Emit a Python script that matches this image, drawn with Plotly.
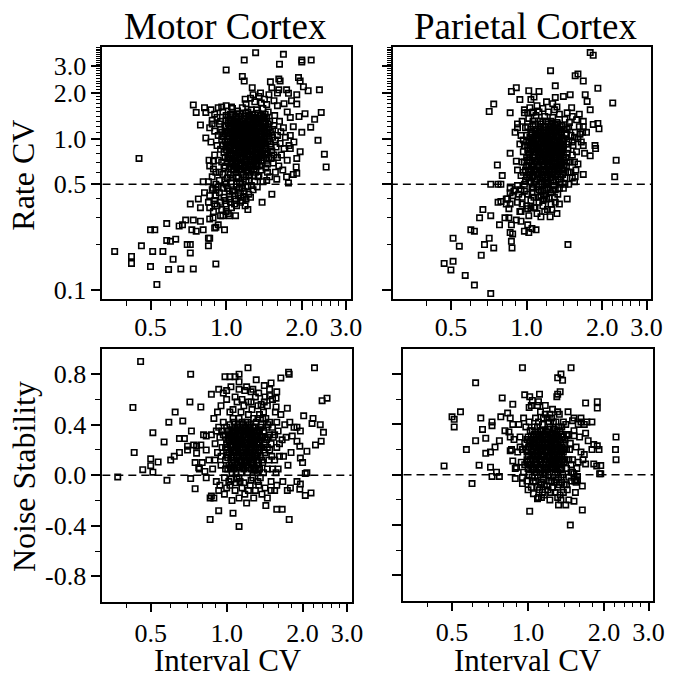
import math
import plotly.graph_objects as go

# ---------------- data ----------------
# Motor cortex: (Interval CV, Rate CV)
MOTOR_RATE = [
    (1.31, 3.69), (1.69, 3.6), (1.18, 3.3), (2.0, 3.3), (2.18, 3.3), (2.0, 3.2), (1.0, 2.84), (1.63, 3.1),
    (1.16, 2.57), (1.18, 2.4), (1.27, 2.17), (1.37, 2.0), (1.5, 2.37), (1.62, 2.47), (1.64, 2.4),
    (1.52, 2.17), (1.6, 2.0), (1.62, 2.1), (1.74, 2.1), (1.77, 1.99), (1.94, 2.53), (1.97, 2.4),
    (2.03, 2.2), (2.12, 2.07), (2.35, 2.1), (1.91, 1.95), (1.82, 1.78), (1.91, 1.69), (2.39, 1.49),
    (2.06, 1.46), (2.25, 1.34), (2.17, 1.19), (2.32, 0.975), (2.46, 0.79), (2.5, 0.65), (1.8, 0.86),
    (1.97, 0.82), (1.91, 0.74), (1.91, 0.59), (1.77, 0.51), (1.52, 0.43), (1.39, 0.38), (0.45, 0.74),
    (0.74, 1.67), (0.76, 1.49), (0.82, 1.6), (0.83, 1.49), (0.79, 1.23), (0.83, 1.01), (0.855, 0.72),
    (0.91, 0.6), (0.81, 0.52), (0.85, 0.52), (0.775, 0.4), (0.72, 0.37), (0.79, 0.35), (0.82, 0.44),
    (0.887, 0.47), (0.91, 0.46), (0.86, 0.35), (0.9, 0.37), (1.03, 0.4), (1.09, 0.4), (1.16, 0.39),
    (1.22, 0.34), (1.25, 0.41), (1.0, 0.33), (0.97, 0.31), (1.03, 0.31), (1.09, 0.31), (0.887, 0.30),
    (0.86, 0.295), (0.79, 0.285), (0.74, 0.29), (0.73, 0.25), (0.76, 0.245), (0.81, 0.25), (0.69, 0.29),
    (0.65, 0.265), (0.67, 0.27), (0.58, 0.275), (0.5, 0.25), (0.52, 0.25), (0.9, 0.257), (0.93, 0.27),
    (0.91, 0.26), (0.985, 0.25), (0.86, 0.22), (0.63, 0.217), (0.58, 0.213), (0.6, 0.21), (0.7, 0.2),
    (0.72, 0.2), (0.85, 0.196), (0.85, 0.22), (0.46, 0.196), (0.51, 0.18), (0.56, 0.18), (0.72, 0.176),
    (0.36, 0.18), (0.42, 0.167), (0.42, 0.15), (0.615, 0.16), (0.5, 0.143), (0.59, 0.137), (0.66, 0.138),
    (0.74, 0.138), (0.91, 0.149), (0.53, 0.109),
    # dense core
    (1.02, 0.95), (1.08, 1.12), (1.15, 0.88), (1.21, 1.03), (1.27, 0.76), (1.33, 0.92), (1.12, 0.69),
    (0.98, 0.81), (1.05, 1.31), (1.18, 1.22), (1.24, 1.41), (1.36, 1.08), (1.42, 0.85), (1.48, 1.18),
    (1.39, 0.71), (1.29, 0.63), (1.17, 0.58), (1.07, 0.62), (0.96, 0.7), (0.93, 1.05), (0.99, 1.2),
    (1.04, 1.45), (1.11, 1.52), (1.19, 1.35), (1.31, 1.27), (1.45, 1.38), (1.53, 1.02), (1.58, 0.88),
    (1.51, 0.74), (1.44, 0.64), (1.35, 0.57), (1.23, 0.53), (1.13, 0.52), (1.01, 0.55), (0.94, 0.6),
    (0.9, 0.78), (0.92, 0.9), (0.95, 1.15), (1.0, 1.33), (1.07, 1.02), (1.1, 0.84), (1.14, 1.07),
    (1.2, 0.92), (1.26, 1.15), (1.3, 0.98), (1.34, 0.82), (1.38, 0.95), (1.41, 1.12), (1.47, 0.97),
    (1.55, 1.22), (1.6, 1.05), (1.64, 0.93), (1.66, 0.78), (1.62, 0.66), (1.57, 0.6), (1.49, 0.56),
    (1.4, 0.52), (1.26, 0.49), (1.16, 0.47), (1.06, 0.45), (0.97, 0.47), (0.91, 0.5), (0.88, 0.56),
    (0.86, 0.66), (0.89, 0.71), (1.03, 0.74), (1.09, 0.77), (1.16, 0.8), (1.23, 0.7), (1.28, 0.85),
    (1.37, 0.77), (1.44, 0.9), (1.52, 0.83), (1.12, 0.97), (1.18, 1.13), (1.22, 1.25), (1.29, 1.34),
    (1.34, 1.47), (1.26, 1.55), (1.16, 1.6), (1.06, 1.58), (0.97, 1.5), (0.92, 1.38), (0.88, 1.25),
    (0.9, 1.12), (0.96, 0.99), (1.01, 0.88), (1.06, 1.08), (1.13, 1.29), (1.4, 1.58), (1.47, 1.5),
    (1.56, 1.42), (1.63, 1.3), (1.69, 1.18), (1.72, 1.02), (1.7, 0.86), (1.75, 0.72), (1.68, 0.62),
    (1.59, 0.54), (1.46, 0.6), (1.33, 0.66), (1.21, 0.62), (1.1, 0.56), (0.99, 0.52), (1.05, 0.68),
    (1.15, 0.73), (1.25, 0.79), (1.32, 0.88), (1.43, 1.03), (1.5, 1.1), (1.57, 0.98), (1.65, 1.11),
    (1.03, 1.17), (0.99, 1.08), (1.1, 1.2), (1.25, 1.06), (1.19, 0.99), (1.14, 0.91), (1.08, 0.86),
    (1.24, 0.96), (1.31, 1.04), (1.36, 1.19), (1.27, 1.23), (1.2, 1.41), (1.09, 1.38), (1.02, 1.26),
    (0.95, 0.85), (0.98, 0.64), (1.04, 0.58), (1.12, 0.63), (1.2, 0.66), (1.3, 0.72), (1.38, 0.62),
    (1.45, 0.72), (1.54, 0.69), (1.6, 0.75), (1.13, 0.76), (1.07, 0.92), (1.17, 1.02), (1.28, 0.93),
    (1.35, 0.99), (1.41, 0.93), (1.46, 0.8),
    (1.01, 1.0), (1.04, 0.83), (1.06, 0.97), (1.09, 1.05), (1.11, 0.9), (1.13, 1.12), (1.16, 0.94),
    (1.18, 0.82), (1.21, 0.88), (1.23, 1.09), (1.25, 0.9), (1.28, 1.02), (1.3, 1.18), (1.32, 0.8),
    (1.35, 1.12), (1.37, 0.88), (1.39, 1.04), (1.42, 1.2), (1.44, 0.78), (1.46, 1.08), (1.03, 0.65),
    (1.06, 0.72), (1.1, 0.64), (1.14, 0.68), (1.17, 0.76), (1.22, 0.6), (1.26, 0.68), (1.29, 0.57),
    (1.33, 0.74), (1.36, 0.66), (1.02, 1.1), (1.05, 1.22), (1.08, 1.28), (1.12, 1.4), (1.15, 1.18),
    (1.19, 1.27), (1.24, 1.33), (1.27, 1.45), (1.31, 1.38), (1.35, 1.28), (1.38, 1.42), (1.42, 1.3),
    (1.08, 0.97), (1.12, 0.8), (1.19, 0.73), (1.24, 0.82), (1.28, 0.78), (1.33, 1.0), (1.4, 0.82),
    (1.46, 0.68), (1.0, 0.9), (0.97, 1.03), (0.99, 0.75), (1.02, 0.6), (1.06, 0.55), (1.15, 0.6),
    (1.2, 0.56), (1.26, 0.62), (1.31, 0.6), (1.11, 1.08), (1.16, 1.1), (1.21, 1.16), (1.25, 1.22),
    (1.14, 0.98), (1.22, 1.0), (1.29, 1.1), (1.34, 0.94), (1.05, 0.8), (1.09, 0.7), (1.17, 0.9),
    (1.27, 0.96), (1.37, 1.02), (1.43, 0.96), (1.5, 0.92), (1.53, 1.15), (1.49, 1.3), (1.43, 1.45),
    (1.32, 1.55), (1.22, 1.5), (1.1, 1.3), (0.95, 1.3), (0.93, 0.72), (0.94, 0.53), (0.97, 0.58),
    (1.0, 0.5), (1.05, 0.52), (1.1, 0.5), (1.2, 0.52), (1.3, 0.52), (1.45, 0.53),
    (1.0, 1.12), (1.03, 0.87), (1.05, 0.78), (1.07, 1.15), (1.09, 0.94), (1.11, 0.72), (1.13, 0.85),
    (1.15, 1.25), (1.17, 1.06), (1.19, 0.64), (1.21, 0.78), (1.23, 0.93), (1.25, 1.3), (1.27, 0.86),
    (1.29, 0.7), (1.31, 0.91), (1.33, 1.22), (1.35, 0.76), (1.37, 1.32), (1.39, 0.9), (1.41, 0.75),
    (1.43, 1.15), (1.02, 1.38), (1.06, 1.42), (1.1, 0.98), (1.14, 0.62), (1.18, 1.05), (1.22, 0.84),
    (1.26, 1.0), (1.3, 0.85), (1.34, 1.36), (1.38, 1.12), (1.42, 1.0), (1.04, 0.9), (1.08, 0.66),
    (1.12, 1.17), (1.16, 1.35), (1.2, 1.2), (1.24, 0.66), (1.28, 1.28), (1.32, 0.68), (1.36, 0.85),
    (1.4, 1.25), (1.44, 1.24), (0.99, 0.96), (1.01, 0.7), (1.07, 0.83), (1.13, 1.0), (1.19, 0.87),
    (1.25, 0.72), (1.31, 1.12), (1.37, 0.98), (1.43, 0.86), (1.48, 1.04), (1.51, 0.88), (1.55, 0.78),
    (1.48, 0.75), (1.09, 1.1), (1.2, 1.08), (1.27, 1.1), (1.17, 1.3), (1.23, 1.43), (1.13, 1.46),
    (1.05, 0.63), (1.16, 0.66), (1.28, 0.66), (1.34, 0.56), (1.24, 0.57), (1.12, 0.55), (0.97, 0.9),
    (0.96, 1.1), (1.0, 1.22),
    (1.005, 0.84), (1.025, 1.05), (1.045, 0.69), (1.065, 1.26), (1.085, 0.8), (1.105, 1.35),
    (1.125, 0.93), (1.145, 0.75), (1.165, 1.15), (1.185, 0.97), (1.205, 0.7), (1.225, 1.18),
    (1.245, 1.06), (1.265, 0.83), (1.285, 1.2), (1.305, 0.78), (1.325, 1.06), (1.345, 0.72),
    (1.365, 0.93), (1.385, 1.18), (1.405, 0.96), (1.425, 0.8), (1.445, 1.1), (1.015, 0.78),
    (1.035, 1.3), (1.055, 0.95), (1.075, 0.74), (1.095, 1.22), (1.115, 1.04), (1.135, 0.66),
    (1.155, 0.84), (1.175, 1.2), (1.195, 0.95), (1.215, 1.3), (1.235, 0.76), (1.255, 0.95),
    (1.275, 1.36), (1.295, 0.94), (1.315, 0.66), (1.335, 0.86), (1.355, 1.04), (1.375, 0.72),
    (1.395, 0.8), (1.415, 1.38), (1.06, 1.05), (1.1, 0.92), (1.14, 1.22), (1.18, 0.9), (1.22, 0.68),
    (1.26, 1.12), (1.3, 1.06), (1.34, 1.16), (1.38, 0.78), (1.12, 0.88), (1.16, 1.0), (1.2, 0.82),
    (1.24, 1.16), (1.28, 0.92), (1.32, 1.3), (1.36, 0.98), (1.08, 1.2), (1.04, 1.08), (1.02, 0.74),
    (0.99, 0.66), (1.0, 1.42), (1.1, 1.45), (1.2, 1.47), (1.3, 1.44), (1.4, 1.4), (1.47, 1.25),
    # band just below the 0.5 line
    (0.86, 0.42), (0.9, 0.39), (0.94, 0.44), (0.98, 0.41), (1.03, 0.43), (1.08, 0.37), (1.12, 0.42),
    (1.18, 0.45), (1.23, 0.43), (0.92, 0.36), (0.96, 0.34), (1.0, 0.37), (1.05, 0.35), (1.14, 0.38),
    (1.2, 0.4), (0.88, 0.46), (1.1, 0.48), (1.28, 0.46), (1.33, 0.48), (0.95, 0.31), (1.02, 0.32),
    (1.07, 0.46), (0.93, 0.48), (1.16, 0.5), (1.22, 0.48), (0.85, 0.38), (0.89, 0.33),
    (1.03, 0.45), (1.08, 0.42), (1.14, 0.44), (0.99, 0.39), (1.04, 0.38), (1.1, 0.36), (1.17, 0.41),
    (0.95, 0.38), (0.91, 0.42), (1.01, 0.47), (1.13, 0.47), (1.19, 0.36),
    # upper edges
    (0.87, 1.55), (0.9, 1.45), (0.93, 1.6), (0.96, 1.62), (1.0, 1.65), (1.05, 1.62), (0.88, 1.32),
    (0.86, 1.18), (0.87, 0.95), (0.89, 0.63), (0.94, 1.25), (1.2, 1.7), (1.3, 1.75), (1.38, 1.72),
    (1.45, 1.68), (1.25, 1.85), (1.35, 1.9), (1.42, 1.82), (1.55, 1.78), (1.6, 1.65), (1.7, 1.7),
    (1.28, 1.95), (1.19, 1.82), (1.48, 1.95), (1.75, 1.5), (1.8, 1.38), (1.85, 1.2), (1.8, 1.05),
    (1.86, 0.95), (1.78, 0.9), (1.9, 0.65), (1.85, 0.58), (1.74, 0.56), (1.95, 1.4), (2.0, 1.1),
]

# Parietal cortex: (Interval CV, Rate CV)
PARIETAL_RATE = [
    (1.79, 3.7), (1.84, 3.55), (1.245, 2.81), (1.56, 2.6), (1.6, 2.67), (1.68, 2.4), (1.92, 2.15),
    (0.87, 2.05), (0.91, 2.17), (1.02, 2.07), (1.07, 1.88), (1.04, 1.81), (1.12, 2.05), (1.3, 2.23),
    (0.94, 1.81), (0.74, 1.69), (0.71, 1.51), (0.86, 1.48), (0.98, 1.48), (1.01, 1.48), (1.05, 1.48),
    (1.3, 1.87), (1.4, 1.9), (1.49, 1.95), (1.71, 1.95), (1.74, 1.76), (1.79, 1.55), (1.51, 1.6),
    (2.2, 1.72), (1.68, 1.3), (1.84, 1.24), (1.92, 1.26), (1.94, 1.16), (1.67, 1.1), (1.63, 1.07),
    (1.68, 0.9), (1.87, 0.9), (1.88, 0.86), (1.79, 0.77), (2.27, 0.72), (2.24, 0.56), (1.68, 0.58),
    (1.56, 0.56), (0.92, 1.18), (0.86, 0.8), (0.91, 0.71), (0.765, 0.67), (0.8, 0.57), (0.72, 0.5),
    (0.79, 0.5), (0.77, 0.5), (0.86, 0.47), (0.89, 0.45), (0.86, 0.44), (0.95, 0.46), (0.93, 0.43),
    (0.77, 0.38), (0.79, 0.385), (0.84, 0.4), (0.83, 0.37), (0.85, 0.345), (0.67, 0.34), (0.65, 0.3),
    (0.72, 0.31), (0.78, 0.27), (0.82, 0.3), (0.85, 0.3), (0.87, 0.27), (0.91, 0.29), (0.95, 0.285),
    (1.01, 0.27), (1.05, 0.255), (0.98, 0.245), (1.02, 0.24), (1.09, 0.25), (0.6, 0.25), (0.62, 0.245),
    (0.68, 0.2), (0.71, 0.22), (0.74, 0.19), (0.86, 0.24), (0.88, 0.235), (0.87, 0.21), (0.875, 0.19),
    (0.51, 0.22), (0.54, 0.195), (0.66, 0.17), (0.47, 0.15), (0.51, 0.155), (0.5, 0.136), (0.57, 0.125),
    (0.62, 0.108), (0.72, 0.095), (1.46, 0.2), (1.14, 0.305), (1.24, 0.305), (1.32, 0.32), (1.45, 0.4),
    (0.95, 0.33), (1.01, 0.345), (1.07, 0.35), (1.17, 0.4),
    # dense core
    (1.0, 0.95), (1.05, 1.1), (1.1, 0.85), (1.15, 1.0), (1.2, 0.78), (1.25, 0.92), (1.3, 1.12),
    (1.35, 0.7), (1.4, 0.88), (1.02, 0.72), (1.07, 0.6), (1.12, 0.66), (1.18, 0.55), (1.23, 0.62),
    (1.28, 0.52), (1.33, 0.58), (1.38, 0.64), (1.43, 0.75), (1.47, 0.95), (1.5, 1.05), (1.45, 1.15),
    (1.38, 1.22), (1.32, 1.28), (1.22, 1.2), (1.14, 1.25), (1.06, 1.3), (0.99, 1.18), (0.95, 1.05),
    (0.97, 0.82), (0.99, 0.62), (1.04, 0.52), (1.1, 0.48), (1.16, 0.45), (1.22, 0.5), (1.3, 0.46),
    (1.36, 0.5), (1.42, 0.55), (1.5, 0.6), (1.55, 0.7), (1.58, 0.82), (1.53, 0.9), (1.6, 1.0),
    (1.56, 1.1), (1.62, 1.2), (1.48, 1.28), (1.42, 1.34), (1.27, 1.38), (1.18, 1.4), (1.09, 1.42),
    (1.02, 1.36), (0.96, 1.3), (0.94, 0.92), (0.96, 0.7), (1.08, 0.78), (1.13, 0.92), (1.19, 1.08),
    (1.26, 1.02), (1.32, 0.95), (1.36, 0.82), (1.29, 0.75), (1.21, 0.68), (1.16, 0.72), (1.11, 0.58),
    (1.06, 0.88), (1.03, 1.02), (1.09, 1.15), (1.17, 1.14), (1.24, 0.84), (1.34, 1.05), (1.41, 1.0),
    (1.46, 0.85), (1.44, 0.66), (1.39, 0.58), (1.26, 0.58), (1.19, 0.62), (1.14, 0.8), (1.01, 0.84),
    (1.07, 0.98), (1.23, 1.13), (1.29, 0.88), (1.35, 0.92), (1.4, 0.78), (1.31, 0.66), (1.24, 0.72),
    (1.17, 0.86), (1.12, 1.04), (1.2, 0.96), (1.27, 1.24), (1.33, 1.17), (1.52, 0.78), (1.57, 0.62),
    (1.47, 0.5), (1.4, 0.47), (1.33, 0.43), (1.25, 0.44), (1.18, 0.42), (1.11, 0.41), (1.05, 0.44),
    (0.98, 0.5), (0.95, 0.57), (1.0, 0.56), (1.08, 0.52), (1.15, 0.5), (1.21, 0.56), (1.27, 0.65),
    (1.37, 0.72), (1.45, 0.8), (1.02, 0.65), (1.1, 0.7), (1.13, 1.18), (1.06, 1.22), (1.25, 1.3),
    (1.37, 1.1), (1.44, 1.06), (1.3, 0.8), (1.22, 0.9), (1.16, 0.98), (1.09, 0.9), (1.04, 0.95),
    (1.02, 0.8), (1.05, 0.7), (1.08, 0.92), (1.11, 0.76), (1.14, 0.62), (1.17, 0.68), (1.2, 0.86),
    (1.23, 0.98), (1.26, 0.75), (1.29, 0.62), (1.32, 0.85), (1.35, 0.98), (1.38, 0.84), (1.41, 0.67),
    (1.04, 1.15), (1.08, 1.05), (1.12, 1.1), (1.16, 1.2), (1.2, 1.1), (1.24, 1.18), (1.28, 1.05),
    (1.32, 1.1), (1.36, 1.2), (1.03, 0.58), (1.07, 0.5), (1.13, 0.55), (1.19, 0.5), (1.25, 0.55),
    (1.31, 0.52), (1.37, 0.56), (1.0, 0.66), (1.06, 0.65), (1.15, 0.88), (1.22, 0.8), (1.27, 0.9),
    (1.33, 0.7), (1.1, 1.0), (1.18, 0.94), (1.25, 1.08), (1.3, 0.96), (1.12, 0.85), (1.21, 0.74),
    (1.28, 0.7), (1.09, 0.6), (1.16, 0.56), (1.24, 0.6), (1.34, 0.62), (1.4, 0.9), (1.43, 1.08),
    (1.47, 1.2), (1.13, 1.3), (1.2, 1.3), (1.0, 1.05), (0.98, 0.9), (0.97, 0.6), (0.99, 0.53),
    (1.05, 0.48), (1.12, 0.46), (1.2, 0.47), (1.28, 0.49), (1.35, 0.47), (1.42, 0.5), (1.06, 0.82),
    (1.18, 0.78), (1.26, 0.84), (1.36, 0.78), (1.44, 0.92), (1.49, 0.7), (1.52, 0.95), (1.55, 1.02),
    (1.48, 0.6), (1.52, 0.55),
    (1.01, 0.9), (1.03, 0.76), (1.05, 1.02), (1.07, 0.68), (1.09, 0.82), (1.11, 0.96), (1.13, 0.72),
    (1.15, 0.58), (1.17, 0.78), (1.19, 0.9), (1.21, 1.02), (1.23, 0.68), (1.25, 0.8), (1.27, 0.58),
    (1.29, 0.98), (1.31, 0.74), (1.33, 0.9), (1.35, 0.62), (1.37, 0.8), (1.39, 0.96), (1.02, 0.55),
    (1.06, 0.98), (1.1, 0.62), (1.14, 1.12), (1.18, 0.7), (1.22, 0.62), (1.26, 0.95), (1.3, 0.56),
    (1.34, 0.82), (1.38, 0.68), (1.04, 0.62), (1.08, 0.72), (1.12, 0.92), (1.16, 0.82), (1.2, 0.6),
    (1.24, 1.05), (1.28, 0.82), (1.32, 0.64), (1.36, 0.9), (1.4, 0.72), (1.0, 0.75), (1.05, 0.86),
    (1.11, 1.08), (1.17, 1.04), (1.23, 0.88), (1.29, 1.18), (1.35, 1.15), (1.41, 1.15), (1.1, 0.54),
    (1.2, 0.53), (1.3, 0.65), (1.06, 0.57), (1.14, 0.7), (1.22, 0.72), (1.28, 0.78), (1.38, 1.02),
    (1.45, 0.7), (1.46, 0.6), (1.12, 0.5), (1.27, 0.46), (1.18, 0.46), (0.98, 0.7), (0.97, 0.98),
    (1.01, 1.2), (1.08, 1.25), (1.16, 1.3), (1.22, 1.25), (1.3, 1.22),
    (1.005, 0.72), (1.025, 0.95), (1.045, 0.66), (1.065, 0.78), (1.085, 1.12), (1.105, 0.66),
    (1.125, 0.8), (1.145, 0.95), (1.165, 0.62), (1.185, 1.0), (1.205, 0.72), (1.225, 0.84),
    (1.245, 0.66), (1.265, 1.12), (1.285, 0.6), (1.305, 0.88), (1.325, 1.02), (1.345, 0.74),
    (1.365, 0.66), (1.385, 0.9), (1.015, 0.6), (1.035, 0.86), (1.055, 0.56), (1.075, 0.9),
    (1.095, 0.7), (1.115, 0.86), (1.135, 1.06), (1.155, 0.76), (1.175, 0.6), (1.195, 0.82),
    (1.215, 0.94), (1.235, 0.58), (1.255, 0.7), (1.275, 0.86), (1.295, 0.68), (1.315, 1.06),
    (1.335, 0.54), (1.355, 0.86), (1.375, 1.05), (1.395, 0.62), (1.08, 0.62), (1.12, 0.78),
    (1.16, 0.66), (1.2, 0.92), (1.24, 0.78), (1.28, 0.95), (1.32, 0.78), (1.36, 0.7), (1.06, 0.75),
    (1.1, 0.88), (1.14, 0.52), (1.18, 1.2), (1.22, 1.08), (1.26, 0.66), (1.3, 0.9), (1.34, 1.0),
    (1.04, 1.08), (1.15, 1.05), (1.25, 1.2), (1.33, 1.25),
    # band below the 0.5 line
    (0.88, 0.42), (0.92, 0.38), (0.96, 0.41), (1.0, 0.36), (1.04, 0.39), (1.08, 0.35), (1.12, 0.38),
    (1.16, 0.36), (1.2, 0.4), (1.25, 0.37), (1.29, 0.41), (0.9, 0.46), (0.98, 0.45), (1.06, 0.47),
    (1.14, 0.45), (1.22, 0.46), (1.3, 0.38), (1.35, 0.37), (0.94, 0.33), (1.02, 0.31), (1.1, 0.32),
    (1.18, 0.33), (1.26, 0.34), (0.86, 0.37), (0.83, 0.4), (1.01, 0.43), (1.07, 0.41), (1.14, 0.42),
    (1.23, 0.41), (0.92, 0.49), (0.96, 0.37), (1.04, 0.35), (1.16, 0.39), (1.21, 0.34),
    # upper edges
    (0.98, 1.55), (1.03, 1.6), (1.1, 1.65), (1.16, 1.58), (1.22, 1.5), (1.29, 1.55), (1.35, 1.45),
    (1.2, 1.75), (1.27, 1.7), (1.32, 1.62), (1.45, 1.48), (1.52, 1.4), (1.58, 1.33), (1.62, 1.45),
    (1.68, 1.2), (1.73, 1.1), (1.65, 0.95), (1.7, 0.8), (1.6, 0.68), (1.55, 0.52), (1.12, 1.5),
    (1.06, 1.5), (0.92, 1.25), (0.9, 1.1), (0.92, 0.62),
]

# Motor cortex: (Interval CV, Noise Stability)
MOTOR_NOISE = [
    (0.456, 0.9), (0.72, 0.8), (0.425, 0.536), (0.43, 0.18), (0.37, -0.013), (0.465, 0.044),
    (0.5, 0.13), (0.5, 0.076), (0.51, 0.024), (0.535, 0.105), (0.51, 0.337), (0.565, 0.264),
    (0.59, 0.42), (0.625, 0.5), (0.67, 0.43), (0.715, 0.58), (0.725, 0.35), (0.58, -0.04),
    (0.6, 0.12), (0.62, 0.15), (0.65, 0.18), (0.65, 0.29), (0.68, 0.29), (0.7, 0.23), (0.7, 0.2),
    (0.74, 0.24), (0.76, 0.23), (0.79, 0.24), (0.79, 0.54), (0.72, -0.026), (0.75, -0.107),
    (0.75, 0.1), (0.775, 0.06), (0.76, 0.175), (0.82, 0.03), (0.83, -0.02), (0.81, 0.32), (0.83, 0.31),
    (0.86, -0.18), (0.87, -0.165), (0.86, -0.35), (0.93, -0.28), (1.06, -0.3), (1.12, -0.405),
    (0.87, 0.64), (0.93, 0.68), (1.0, 0.67), (0.985, 0.78), (1.03, 0.78), (1.08, 0.78), (1.12, 0.8),
    (1.215, 0.85), (1.12, 0.74), (1.18, 0.67), (1.25, 0.66), (1.31, 0.755), (1.41, 0.71), (1.5, 0.73),
    (1.64, 0.77), (1.76, 0.815), (1.77, 0.8), (2.23, 0.85), (2.39, 0.59), (2.5, 0.61), (2.02, 0.47),
    (2.2, 0.45), (2.35, 0.4), (2.42, 0.34), (2.25, 0.24), (2.37, 0.27), (2.18, 0.41), (2.08, 0.19),
    (1.96, 0.136), (2.0, 0.1), (2.05, 0.013), (2.08, 0.02), (2.05, -0.16), (2.16, -0.14), (1.9, -0.05),
    (1.96, -0.07), (1.95, -0.11), (1.77, -0.35), (1.66, -0.27), (1.58, -0.27), (1.43, -0.24),
    (1.74, -0.12), (1.79, -0.1), (1.9, 0.38), (1.96, 0.35), (1.82, 0.31), (1.9, 0.27), (1.95, 0.23),
    (1.74, 0.53), (1.57, 0.54), (1.48, 0.63), (1.58, 0.66), (1.57, 0.61),
    # dense core
    (1.0, 0.2), (1.05, 0.3), (1.1, 0.15), (1.15, 0.25), (1.2, 0.1), (1.25, 0.35), (1.3, 0.2),
    (1.35, 0.05), (1.02, 0.08), (1.08, 0.38), (1.12, 0.45), (1.18, 0.32), (1.22, 0.18), (1.28, 0.28),
    (1.32, 0.12), (1.38, 0.3), (1.42, 0.18), (1.45, 0.05), (1.5, 0.25), (1.55, 0.12), (1.6, 0.35),
    (1.48, 0.42), (1.4, 0.5), (1.33, 0.45), (1.26, 0.52), (1.17, 0.55), (1.1, 0.58), (1.03, 0.5),
    (0.97, 0.42), (0.94, 0.3), (0.92, 0.18), (0.95, 0.08), (0.98, -0.02), (1.03, -0.08), (1.08, -0.12),
    (1.13, -0.05), (1.18, -0.15), (1.24, -0.08), (1.3, -0.12), (1.36, -0.02), (1.42, -0.1), (1.5, -0.05),
    (1.57, 0.02), (1.62, 0.15), (1.66, 0.28), (1.7, 0.4), (1.64, 0.48), (1.56, 0.5), (1.52, 0.38),
    (1.46, 0.3), (1.06, 0.22), (1.13, 0.33), (1.19, 0.42), (1.24, 0.25), (1.29, 0.38), (1.34, 0.22),
    (1.39, 0.1), (1.01, 0.35), (0.96, 0.22), (1.07, 0.05), (1.14, 0.1), (1.21, 0.02), (1.27, 0.08),
    (1.33, -0.05), (1.16, 0.2), (1.09, 0.25), (1.04, 0.14), (0.99, 0.12), (1.23, 0.4), (1.31, 0.3),
    (1.37, 0.4), (1.44, 0.38), (1.51, 0.15), (1.58, 0.22), (1.47, 0.12), (1.41, 0.25), (1.11, 0.4),
    (1.06, 0.45), (1.2, 0.28), (1.26, 0.15), (1.32, 0.25), (1.17, 0.05), (1.12, -0.02), (1.05, 0.02),
    (0.93, 0.38), (0.9, 0.25), (0.88, 0.05), (0.91, -0.05), (1.0, 0.28), (1.08, 0.18), (1.15, 0.35),
    (1.22, 0.48), (1.28, 0.45), (1.35, 0.35), (1.43, 0.45), (1.53, 0.3), (1.6, 0.05), (1.67, -0.05),
    (1.55, -0.12), (1.45, -0.18), (1.38, -0.15), (1.28, -0.18), (1.2, -0.22), (1.12, -0.18),
    (1.05, -0.2), (0.98, -0.15), (0.93, -0.12), (0.89, -0.18), (0.95, 0.55), (1.0, 0.6), (1.08, 0.62),
    (1.15, 0.6), (1.22, 0.58), (1.3, 0.62), (1.37, 0.56), (1.45, 0.55), (1.52, 0.6), (1.35, 0.48),
    (1.18, 0.12), (1.24, 0.32), (1.1, 0.1), (1.03, 0.32), (1.14, 0.28), (1.26, 0.22), (1.36, 0.15),
    (1.3, 0.05), (1.4, 0.35), (1.48, 0.2), (1.58, 0.42), (1.68, 0.15), (1.72, 0.3), (1.75, 0.08),
    (1.8, 0.18), (1.78, 0.42), (1.85, 0.38), (0.87, 0.32), (0.85, 0.12), (0.89, 0.45), (0.92, 0.5),
    (0.97, 0.65), (1.04, 0.7), (1.12, 0.68), (1.2, 0.7), (1.27, 0.68), (1.34, 0.65), (1.42, 0.62),
    (1.48, 0.68), (0.83, 0.2), (0.8, 0.1), (0.78, 0.05),
    (1.0, 0.25), (1.02, 0.18), (1.04, 0.3), (1.06, 0.12), (1.08, 0.28), (1.1, 0.22), (1.12, 0.32),
    (1.14, 0.18), (1.16, 0.3), (1.18, 0.22), (1.2, 0.35), (1.22, 0.3), (1.24, 0.12), (1.26, 0.3),
    (1.28, 0.12), (1.3, 0.28), (1.32, 0.35), (1.34, 0.1), (1.01, 0.05), (1.05, 0.08), (1.09, 0.02),
    (1.13, 0.06), (1.17, 0.15), (1.21, 0.08), (1.25, 0.05), (1.29, 0.15), (1.33, 0.18), (1.37, 0.22),
    (1.03, 0.4), (1.07, 0.35), (1.11, 0.28), (1.15, 0.42), (1.19, 0.38), (1.23, 0.2), (1.27, 0.38),
    (1.31, 0.42), (1.36, 0.3), (0.97, 0.32), (0.99, 0.05), (1.04, -0.03), (1.09, -0.06), (1.15, -0.1),
    (1.22, -0.12), (1.27, -0.02), (1.34, -0.08), (1.4, 0.02), (1.44, 0.28), (1.48, 0.32), (1.52, 0.05),
    (1.12, 0.15), (1.18, 0.25), (1.24, 0.38), (1.07, 0.2), (1.2, 0.15), (1.27, 0.25), (1.02, 0.28),
    (0.95, 0.15), (0.96, 0.35), (1.39, 0.45), (1.46, 0.4), (1.55, 0.32), (1.62, 0.25), (1.5, -0.12),
    (1.58, -0.08), (1.0, -0.1), (0.94, -0.08), (0.9, 0.12), (0.91, 0.35), (1.06, 0.52), (1.14, 0.5),
    (1.25, 0.58), (1.33, 0.55), (1.41, 0.58),
    (0.99, 0.22), (1.01, 0.14), (1.03, 0.24), (1.05, 0.36), (1.07, 0.14), (1.09, 0.32), (1.11, 0.08),
    (1.13, 0.22), (1.15, 0.12), (1.17, 0.32), (1.19, 0.08), (1.21, 0.24), (1.23, 0.34), (1.25, 0.2),
    (1.27, 0.32), (1.29, 0.06), (1.31, 0.22), (1.33, 0.3), (1.35, 0.2), (1.02, 0.32), (1.06, 0.28),
    (1.1, 0.38), (1.14, 0.02), (1.18, 0.18), (1.22, 0.06), (1.26, 0.1), (1.3, 0.38), (1.34, 0.28),
    (1.04, 0.2), (1.08, 0.08), (1.12, 0.26), (1.16, 0.16), (1.2, 0.22), (1.24, 0.28), (1.28, 0.2),
    (1.32, 0.08), (1.0, 0.38), (1.07, 0.42), (1.14, 0.36), (1.21, 0.42), (1.28, 0.35), (1.36, 0.38),
    (1.38, 0.12), (1.4, 0.2), (1.42, 0.3), (1.45, 0.22), (1.02, -0.05), (1.1, -0.03), (1.17, -0.06),
    (1.25, -0.04), (1.32, 0.02), (1.11, 0.18), (1.19, 0.3), (1.27, 0.16), (1.06, 0.18), (1.16, 0.4),
    (1.005, 0.16), (1.025, 0.27), (1.045, 0.1), (1.065, 0.33), (1.085, 0.2), (1.105, 0.06),
    (1.125, 0.38), (1.145, 0.27), (1.165, 0.08), (1.185, 0.36), (1.205, 0.18), (1.225, 0.12),
    (1.245, 0.33), (1.265, 0.24), (1.285, 0.04), (1.305, 0.16), (1.325, 0.24), (1.345, 0.36),
    (1.015, 0.3), (1.035, 0.06), (1.055, 0.24), (1.075, 0.1), (1.095, 0.16), (1.115, 0.34),
    (1.135, 0.12), (1.155, 0.2), (1.175, 0.26), (1.195, 0.12), (1.215, 0.36), (1.235, 0.14),
    (1.255, 0.26), (1.275, 0.1), (1.295, 0.32), (1.315, 0.12), (1.335, 0.04), (1.355, 0.26),
    (1.05, 0.15), (1.1, 0.27), (1.15, 0.06), (1.2, 0.3), (1.25, 0.1), (1.3, 0.34), (1.08, 0.34),
    (1.12, 0.12), (1.18, 0.1), (1.24, 0.18), (1.28, 0.27), (1.32, 0.16), (1.04, 0.06), (1.16, 0.24),
]

# Parietal cortex: (Interval CV, Noise Stability)
PARIETAL_NOISE = [
    (0.95, 0.85), (1.48, 0.85), (1.31, 0.77), (1.37, 0.75), (1.35, 0.8), (0.62, 0.73), (1.34, 0.66),
    (1.3, 0.62), (1.31, 0.64), (0.79, 0.61), (0.97, 0.635), (1.015, 0.62), (1.11, 0.64), (1.04, 0.59),
    (1.09, 0.55), (1.01, 0.535), (0.87, 0.56), (0.83, 0.49), (0.5, 0.46), (0.51, 0.44), (0.54, 0.5),
    (0.51, 0.38), (0.65, 0.45), (0.72, 0.42), (0.72, 0.39), (0.66, 0.36), (0.78, 0.46), (0.62, 0.27),
    (0.57, 0.2), (0.68, 0.29), (0.68, 0.17), (0.71, 0.18), (0.74, 0.22), (0.77, 0.27), (0.465, 0.07),
    (0.64, 0.076), (0.6, -0.07), (0.71, 0.06), (0.72, -0.013), (0.75, 0.02), (0.77, -0.013),
    (0.85, 0.45), (0.87, 0.4), (0.84, 0.34), (0.85, 0.3), (0.81, 0.35), (0.85, 0.19), (0.87, 0.11),
    (0.89, 0.05), (0.89, -0.03), (0.95, -0.07), (1.015, -0.29), (1.47, -0.4), (1.64, -0.28),
    (1.54, -0.14), (1.64, -0.09), (1.55, -0.06), (1.57, -0.04), (1.32, -0.24), (1.41, -0.24),
    (1.45, -0.2), (1.52, -0.21), (1.09, -0.19), (1.13, -0.18), (1.22, -0.2), (1.31, -0.18), (1.35, -0.2),
    (1.69, 0.57), (1.88, 0.58), (1.88, 0.53), (1.5, 0.43), (1.62, 0.42), (1.67, 0.4), (1.71, 0.42),
    (1.79, 0.42), (1.69, 0.33), (1.73, 0.27), (1.52, 0.31), (1.43, 0.31), (1.79, 0.2), (1.88, 0.23),
    (1.91, 0.2), (1.82, 0.24), (1.67, 0.16), (1.69, 0.086), (1.82, 0.086), (1.87, 0.07), (1.94, 0.073),
    (1.94, 0.008), (1.92, 0.008), (2.23, 0.3), (2.22, 0.2), (2.23, 0.12), (1.52, 0.008), (1.57, -0.013),
    (1.55, -0.05), (1.48, -0.05),
    # dense core
    (1.0, 0.15), (1.04, 0.25), (1.08, 0.1), (1.12, 0.2), (1.16, 0.05), (1.2, 0.3), (1.24, 0.15),
    (1.28, 0.02), (1.32, 0.22), (1.36, 0.1), (1.4, 0.28), (1.02, 0.35), (1.06, 0.02), (1.1, 0.32),
    (1.14, 0.4), (1.18, 0.18), (1.22, 0.38), (1.26, 0.26), (1.3, 0.12), (1.34, 0.35), (1.38, 0.18),
    (1.42, 0.05), (1.46, 0.2), (1.5, 0.12), (0.97, 0.25), (0.94, 0.1), (0.96, 0.02), (0.99, -0.05),
    (1.03, -0.1), (1.07, -0.05), (1.11, -0.12), (1.15, -0.03), (1.19, -0.09), (1.23, -0.14),
    (1.27, -0.06), (1.31, -0.1), (1.35, -0.02), (1.39, -0.08), (1.43, -0.12), (1.05, 0.18), (1.09, 0.28),
    (1.13, 0.12), (1.17, 0.25), (1.21, 0.08), (1.25, 0.33), (1.29, 0.28), (1.33, 0.05), (1.37, 0.3),
    (1.41, 0.4), (1.45, 0.32), (1.01, 0.42), (1.07, 0.45), (1.12, 0.5), (1.19, 0.45), (1.26, 0.42),
    (1.33, 0.48), (0.98, 0.38), (0.93, 0.3), (0.91, 0.18), (0.9, 0.06), (1.15, 0.15), (1.2, 0.2),
    (1.11, 0.05), (1.07, 0.15), (1.23, 0.25), (1.28, 0.18), (1.18, 0.1), (1.14, 0.3), (1.03, 0.08),
    (1.32, 0.14), (1.36, 0.22), (1.26, 0.08), (1.01, 0.22), (1.09, 0.38), (1.17, 0.35), (1.24, 0.05),
    (1.3, 0.35), (1.4, 0.12), (1.47, 0.25), (1.52, 0.35), (1.55, 0.22), (1.58, 0.1), (1.6, 0.3),
    (1.05, -0.15), (1.1, -0.18), (1.16, -0.16), (1.21, -0.05), (1.34, -0.16), (1.45, -0.02), (1.5, 0.02),
    (0.96, 0.45), (1.03, 0.55), (1.1, 0.58), (1.17, 0.55), (1.25, 0.52), (1.38, 0.42), (1.44, 0.5),
    (0.92, 0.4), (0.88, 0.28), (0.86, 0.2), (0.99, 0.12), (1.13, 0.22), (1.19, 0.28), (1.27, 0.36),
    (1.35, 0.26), (1.08, 0.22), (1.22, 0.15), (1.31, 0.02), (1.42, 0.2), (1.12, -0.08), (1.05, 0.3),
    (0.95, 0.2), (1.0, 0.05), (1.48, 0.08), (1.53, -0.05), (1.56, 0.05), (1.62, 0.18), (1.65, 0.12),
    (1.58, 0.4), (1.62, 0.45), (1.52, 0.45),
    (0.98, 0.2), (1.0, 0.3), (1.02, 0.12), (1.04, 0.05), (1.06, 0.25), (1.08, 0.32), (1.1, 0.15),
    (1.12, 0.08), (1.14, 0.25), (1.16, 0.12), (1.18, 0.32), (1.2, 0.05), (1.22, 0.22), (1.24, 0.3),
    (1.26, 0.12), (1.28, 0.25), (1.3, 0.05), (1.32, 0.3), (1.34, 0.15), (1.36, 0.05), (1.38, 0.25),
    (1.01, 0.0), (1.05, -0.05), (1.09, -0.02), (1.13, -0.06), (1.17, 0.0), (1.21, -0.02), (1.25, -0.1),
    (1.29, -0.04), (1.33, -0.08), (1.37, 0.0), (1.03, 0.2), (1.07, 0.08), (1.11, 0.22), (1.15, 0.35),
    (1.19, 0.15), (1.23, 0.1), (1.27, 0.2), (1.31, 0.18), (1.35, 0.32), (1.39, 0.1), (0.99, 0.28),
    (1.06, 0.38), (1.13, 0.35), (1.21, 0.42), (1.29, 0.42), (1.36, 0.38), (1.1, 0.42), (1.17, 0.48),
    (1.24, 0.45), (1.31, 0.5), (0.97, 0.08), (0.95, -0.02), (0.93, 0.22), (1.42, 0.32), (1.45, 0.12),
    (1.48, 0.02), (1.14, -0.14), (1.2, -0.12), (1.28, -0.14), (1.38, -0.14), (1.42, -0.08), (1.09, -0.1),
    (1.0, -0.12), (1.18, 0.22), (1.26, 0.3), (1.08, 0.18), (1.34, 0.08), (1.15, 0.08), (1.22, 0.32),
    (0.99, 0.18), (1.01, 0.08), (1.03, 0.3), (1.05, 0.12), (1.07, 0.22), (1.09, 0.08), (1.11, 0.3),
    (1.13, 0.16), (1.15, 0.22), (1.17, 0.06), (1.19, 0.25), (1.21, 0.15), (1.23, 0.32), (1.25, 0.2),
    (1.27, 0.08), (1.29, 0.22), (1.31, 0.28), (1.33, 0.12), (1.35, 0.2), (1.37, 0.12), (1.02, 0.25),
    (1.06, 0.15), (1.1, 0.05), (1.14, 0.2), (1.18, 0.28), (1.22, 0.05), (1.26, 0.16), (1.3, 0.2),
    (1.34, 0.28), (1.38, 0.2), (1.04, 0.35), (1.08, 0.26), (1.12, 0.35), (1.16, 0.28), (1.2, 0.36),
    (1.24, 0.22), (1.28, 0.32), (1.32, 0.38), (1.36, 0.15), (1.4, 0.2), (1.0, 0.1), (1.04, -0.02),
    (1.08, 0.02), (1.12, 0.0), (1.16, -0.08), (1.2, 0.0), (1.24, -0.05), (1.28, 0.08), (1.32, -0.02),
    (1.36, -0.06), (1.11, 0.12), (1.19, 0.12), (1.27, 0.28), (1.06, 0.32), (1.15, 0.45), (1.22, 0.48),
    (0.995, 0.1), (1.015, 0.27), (1.035, 0.16), (1.055, 0.04), (1.075, 0.3), (1.095, 0.2),
    (1.115, 0.1), (1.135, 0.28), (1.155, 0.02), (1.175, 0.18), (1.195, 0.34), (1.215, 0.1),
    (1.235, 0.26), (1.255, 0.06), (1.275, 0.14), (1.295, 0.32), (1.315, 0.08), (1.335, 0.22),
    (1.355, 0.1), (1.375, 0.3), (1.005, 0.22), (1.025, 0.04), (1.045, 0.22), (1.065, 0.1),
    (1.085, 0.14), (1.105, 0.26), (1.125, 0.04), (1.145, 0.18), (1.165, 0.3), (1.185, 0.04),
    (1.205, 0.24), (1.225, 0.18), (1.245, 0.1), (1.265, 0.3), (1.285, 0.04), (1.305, 0.24),
    (1.325, 0.16), (1.345, 0.04), (1.365, 0.2), (1.05, 0.28), (1.1, 0.22), (1.15, 0.32), (1.2, 0.14),
    (1.25, 0.28), (1.3, 0.14), (1.08, 0.12), (1.12, 0.28), (1.18, 0.05), (1.22, 0.28), (1.28, 0.12),
]

PANEL_TITLES = ["Motor Cortex", "Parietal Cortex"]
X_TITLE = "Interval CV"
Y_TITLES = ["Rate CV", "Noise Stability"]
X_TICKS = [0.5, 1.0, 2.0, 3.0]
X_TICKTEXT = ["0.5", "1.0", "2.0", "3.0"]
RATE_TICKS = [0.1, 0.5, 1.0, 2.0, 3.0]
RATE_TICKTEXT = ["0.1", "0.5", "1.0", "2.0", "3.0"]
NOISE_TICKS = [-0.8, -0.4, 0.0, 0.4, 0.8]
NOISE_TICKTEXT = ["-0.8", "-0.4", "0.0", "0.4", "0.8"]
RATE_REF = 0.5
NOISE_REF = 0.0

# ---------------- styling ----------------
W = H = 677
FONT = "Liberation Serif, Times New Roman, serif"
BLACK = "#000000"

def px_dom(a, b, total):
    return [a / total, b / total]

def py_dom(top, bottom):
    return [1 - bottom / H, 1 - top / H]

panels = [
    # (data, xdom px, ydom px, x range, y type)
    (MOTOR_RATE, (104, 357), (47, 302), (0.321, 3.13), "log"),
    (PARIETAL_RATE, (400, 663), (47, 302), (0.294, 3.13), "log"),
    (MOTOR_NOISE, (104, 358), (352, 607), (0.321, 3.13), "linear"),
    (PARIETAL_NOISE, (410, 665), (352, 606), (0.319, 3.13), "linear"),
]

x_minor = [0.4, 0.6, 0.7, 0.8, 0.9, 1.2, 1.4, 1.6, 1.8, 2.2, 2.4, 2.6, 2.8]
rate_minor = [round(0.1 * k, 1) for k in range(2, 41) if round(0.1 * k, 1) not in RATE_TICKS]
noise_minor = [-0.6, -0.2, 0.2, 0.6]

fig = go.Figure()
layout = {}
for i, (data, xd, yd, xr, ytype) in enumerate(panels):
    n = "" if i == 0 else str(i + 1)
    xs = [p[0] for p in data]
    ys = [p[1] for p in data]
    fig.add_trace(go.Scatter(
        x=xs, y=ys, mode="markers", xaxis="x" + n, yaxis="y" + n,
        marker=dict(symbol="square-open", size=5.4, color=BLACK,
                    line=dict(width=1.6, color=BLACK)),
        showlegend=False, hoverinfo="skip"))
    ref = RATE_REF if ytype == "log" else NOISE_REF
    fig.add_trace(go.Scatter(
        x=[0.2, 5.0], y=[ref, ref], mode="lines", xaxis="x" + n, yaxis="y" + n,
        line=dict(color=BLACK, width=1.6, dash="8px,5px"),
        showlegend=False, hoverinfo="skip"))

    layout["xaxis" + n] = dict(
        type="log", domain=px_dom(xd[0], xd[1], W), anchor="y" + n,
        range=[math.log10(xr[0]), math.log10(xr[1])],
        tickmode="array", tickvals=X_TICKS, ticktext=X_TICKTEXT,
        ticks="outside", ticklen=9, tickwidth=1.5,
        tickcolor=BLACK, showline=True, mirror=True, linecolor=BLACK, linewidth=1.6,
        showgrid=False, zeroline=False, tickfont=dict(family=FONT, size=26, color=BLACK),
        minor=dict(tickvals=x_minor, ticks="outside", ticklen=5, tickwidth=1.3,
                   tickcolor=BLACK, showgrid=False),
        ticklabelstandoff=(-5 if ytype == "log" else -2),
    )
    if ytype == "log":
        ycfg = dict(type="log", range=[math.log10(0.087), math.log10(4.05)],
                    tickvals=RATE_TICKS, ticktext=RATE_TICKTEXT,
                    minor=dict(tickvals=rate_minor, ticks="outside", ticklen=4, tickwidth=1.2,
                               tickcolor=BLACK, showgrid=False))
    else:
        ycfg = dict(type="linear", range=[-1.0, 1.0],
                    tickvals=NOISE_TICKS, ticktext=NOISE_TICKTEXT,
                    minor=dict(tickvals=noise_minor, ticks="outside", ticklen=5, tickwidth=1.3,
                               tickcolor=BLACK, showgrid=False))
    ycfg.update(dict(
        domain=py_dom(yd[0], yd[1]), anchor="x" + n, tickmode="array", ticks="outside",
        ticklen=9, tickwidth=1.5,
        tickcolor=BLACK, showline=True, mirror=True, linecolor=BLACK, linewidth=1.6,
        showgrid=False, zeroline=False, tickfont=dict(family=FONT, size=26, color=BLACK),
        showticklabels=(i % 2 == 0),
    ))
    layout["yaxis" + n] = ycfg

annotations = []
for j, t in enumerate(PANEL_TITLES):
    cx = [229.7, 535.3][j]
    annotations.append(dict(text=t, x=cx / W, y=1 - 27 / H, xref="paper", yref="paper",
                            xanchor="center", yanchor="middle", showarrow=False,
                            font=dict(family=FONT, size=37, color=BLACK)))
for j, cx in enumerate([232, 537.7]):
    annotations.append(dict(text=X_TITLE, x=cx / W, y=1 - 666 / H, xref="paper", yref="paper",
                            xanchor="center", yanchor="middle", showarrow=False,
                            font=dict(family=FONT, size=31, color=BLACK)))
for j, cy in enumerate([176.7, 480.8]):
    annotations.append(dict(text=Y_TITLES[j], x=24 / W, y=1 - cy / H, xref="paper", yref="paper",
                            xanchor="center", yanchor="middle", textangle=-90, showarrow=False,
                            font=dict(family=FONT, size=32, color=BLACK)))

fig.update_layout(
    width=W, height=H, margin=dict(l=0, r=0, t=0, b=0),
    paper_bgcolor="white", plot_bgcolor="white",
    annotations=annotations, **layout)

fig.write_html("out.html")
